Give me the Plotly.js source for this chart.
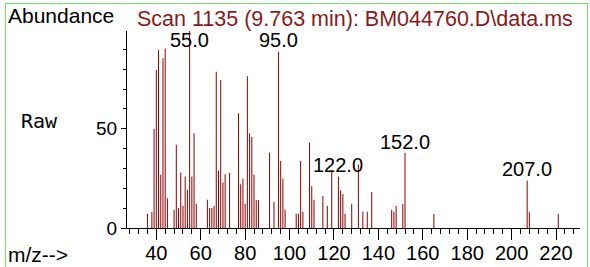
<!DOCTYPE html>
<html>
<head>
<meta charset="utf-8">
<script src="https://cdn.plot.ly/plotly-3.0.1.min.js"></script>
<style>
  html, body { margin: 0; padding: 0; background: #fff; }
  #chart { width: 590px; height: 267px; }
  #frame { position: absolute; left: 5px; top: 3px; width: 581px; height: 280px;
           border: 1px solid #66ee66; pointer-events: none; }
</style>
</head>
<body>
<div id="chart"></div>
<div id="frame"></div>
<script>
// m/z values of the spectrum lines
const mz = [36,38,39,40,41,42,43,44,45,48,49,50,51,52,53,54,55,56,57,58,
            63,64,65,66,67,68,69,70,71,73,77,78,79,80,81,82,83,84,85,86,
            91,93,95,96,97,98,103,104,105,106,109,110,111,115,117,119,
            122,123,124,125,128,131,133,135,137,146,147,148,151,152,165,
            207,208,221];
// abundances
const abundance = [7.2,8.1,50,79.6,89.7,26.9,85.6,90.5,15,9.2,42,10,28,11.2,26,19.3,99.5,26,47.8,12.2,
                   14.2,10.1,10.1,11.1,78.8,28.8,74.6,22.9,27.1,27.8,57.9,22,25,12.2,76.5,47.8,46,27,14.1,14.1,
                   37.9,13.2,88.8,33.8,25,9.2,7.2,7.2,33.8,8.2,43,21.1,14.2,16.1,11.2,29.2,
                   26,19,17.1,7.2,12.2,32,8.2,8.2,18.1,9.2,8.2,11.1,12.1,37.8,7,
                   23.9,8.2,7];
// labelled peaks
const labelledPeaks = [55, 95, 122, 152, 207];
const xTickVals = [40,60,80,100,120,140,160,180,200,220];
const yTickVals = [0, 50];
const titleText = "Scan 1135 (9.763 min): BM044760.D\\data.ms";

const FONT = "Liberation Sans, Arial, sans-serif";
const barColor = "#8b0000";
const yTop = 99.3;
const xRange = [26.8, 230.8];

const annotations = labelledPeaks.map(p => {
  const v = abundance[mz.indexOf(p)];
  return {
    x: p, y: Math.min(v, yTop - 10.5), xref: "x", yref: "y",
    text: p.toFixed(1), showarrow: false, xanchor: "center", yanchor: "bottom",
    yshift: -1.5, font: {family: FONT, size: 20, color: "#000"}
  };
});

annotations.push(
  {xref: "paper", yref: "paper", x: 0.0166, y: 1.062, xanchor: "left", yanchor: "middle",
   text: titleText, showarrow: false, font: {family: FONT, size: 21.5, color: "#8b1a1a"}},
  {xref: "paper", yref: "paper", x: -0.267, y: 1.0797, xanchor: "left", yanchor: "middle",
   text: "Abundance", showarrow: false, font: {family: FONT, size: 21, color: "#000"}},
  {xref: "paper", yref: "paper", x: -0.2384, y: 0.5456, xanchor: "left", yanchor: "middle",
   text: "Raw", showarrow: false, font: {family: "DejaVu Sans Mono, monospace", size: 20, color: "#000"}},
  {xref: "paper", yref: "paper", x: -0.267, y: -0.1346, xanchor: "left", yanchor: "middle",
   text: "m/z-->", showarrow: false, font: {family: FONT, size: 21, color: "#000"}}
);

const trace = {
  type: "bar", x: mz, y: abundance, width: 0.45,
  marker: {color: barColor, line: {width: 0}},
  hoverinfo: "skip"
};
// invisible trace on the overlay axis that carries the long major ticks
const tickTrace = {
  type: "scatter", x: [xRange[0]], y: [0], xaxis: "x2", mode: "markers",
  marker: {opacity: 0}, hoverinfo: "skip"
};

const layout = {
  width: 590, height: 267,
  margin: {l: 127, r: 10, t: 31, b: 39, pad: 0},
  paper_bgcolor: "#fff", plot_bgcolor: "#fff",
  showlegend: false,
  xaxis: {
    range: xRange, showgrid: false, zeroline: false,
    showline: true, linecolor: "#000", linewidth: 1,
    tickmode: "array", tickvals: xTickVals,
    ticks: "outside", ticklen: 7, tickwidth: 1, tickcolor: "#000",
    tickfont: {family: FONT, size: 20, color: "#000"},
    minor: {dtick: 4, tick0: 0, ticks: "outside", ticklen: 5, tickwidth: 1, tickcolor: "#000", showgrid: false}
  },
  xaxis2: {
    overlaying: "x", anchor: "y", side: "bottom", range: xRange,
    showgrid: false, zeroline: false, showline: false, showticklabels: false,
    tickmode: "array", tickvals: xTickVals,
    ticks: "outside", ticklen: 11, tickwidth: 1, tickcolor: "#000"
  },
  yaxis: {
    range: [0, yTop], showgrid: false, zeroline: false,
    showline: true, linecolor: "#000", linewidth: 1,
    tickmode: "array", tickvals: yTickVals,
    ticks: "outside", ticklen: 5, tickwidth: 1, tickcolor: "#000",
    tickfont: {family: FONT, size: 19, color: "#000"},
    minor: {dtick: 10, tick0: 0, ticks: "outside", ticklen: 3, tickwidth: 1, tickcolor: "#000", showgrid: false}
  },
  annotations: annotations
};

Plotly.newPlot("chart", [trace, tickTrace], layout, {staticPlot: true, displayModeBar: false});
</script>
</body>
</html>
